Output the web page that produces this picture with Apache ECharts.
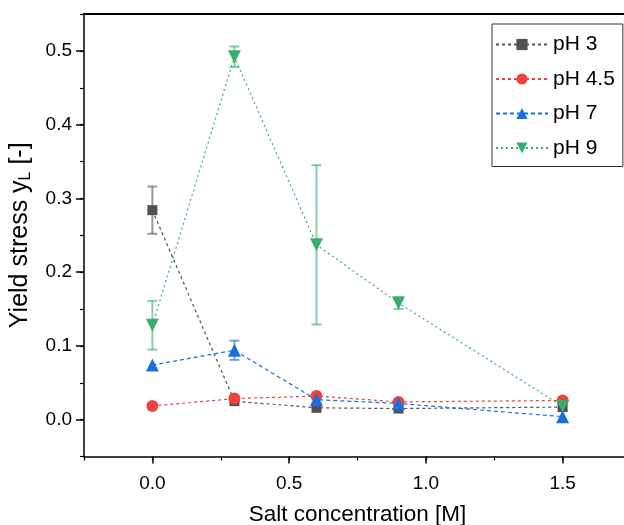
<!DOCTYPE html>
<html>
<head>
<meta charset="utf-8">
<script src="https://cdn.jsdelivr.net/npm/echarts@6/dist/echarts.min.js"></script>
<style>
  html, body { margin: 0; padding: 0; background: #fff; }
  #chart { width: 624px; height: 525px; }
</style>
</head>
<body>
<div id="chart"></div>
<script>
// Salt concentration (M) at which each yield stress was measured
const saltConc = [0, 0.3, 0.6, 0.9, 1.5];

// Yield stress y_L and its standard deviation for each pH
const ph3 = [0.284, 0.025, 0.016, 0.015, 0.017];
const ph3Err = [0.032, 0, 0, 0, 0];
const ph45 = [0.0185, 0.0285, 0.032, 0.024, 0.026];
const ph45Err = [0, 0, 0, 0, 0];
const ph7 = [0.074, 0.094, 0.027, 0.022, 0.004];
const ph7Err = [0, 0.013, 0.004, 0, 0];
const ph9 = [0.128, 0.492, 0.237, 0.158, 0.018];
const ph9Err = [0.033, 0.014, 0.108, 0.008, 0];

const seriesNames = ['pH 3', 'pH 4.5', 'pH 7', 'pH 9'];
const xTickLabels = [0, 0.5, 1.0, 1.5];
const yTickLabels = [0, 0.1, 0.2, 0.3, 0.4, 0.5];

const FONT = 'Liberation Sans';
const colors = ['#515151', '#F14040', '#1A6FDF', '#37AD6B'];
const symbols = ['rect', 'circle', 'triangle', 'triangle'];
const symbolSizes = [10, 12, 13, 13];
const rotations = [0, 0, 0, 180];
const dashes = [[3, 3], [3, 3], [4, 3], [2, 3]];

const values = [ph3, ph45, ph7, ph9];
const errors = [ph3Err, ph45Err, ph7Err, ph9Err];

// minor tick positions every 0.25 M and every 0.05 in stress
const xMinor = [];
for (let i = -1; i <= 7; i++) xMinor.push(+(i * 0.25).toFixed(2));
const yMinor = [];
for (let i = -1; i <= 11; i++) yMinor.push(+(i * 0.05).toFixed(2));

const X_MIN = -0.25, X_MAX = 1.75, Y_MIN = -0.05, Y_MAX = 0.55;

const lineSeries = seriesNames.map((name, k) => ({
  name: name,
  type: 'line',
  xAxisIndex: 0,
  yAxisIndex: 0,
  data: saltConc.map((x, i) => [x, values[k][i]]),
  symbol: symbols[k],
  symbolSize: symbolSizes[k],
  symbolRotate: rotations[k],
  itemStyle: { color: colors[k], opacity: 1 },
  lineStyle: { color: colors[k], width: 1.2, type: dashes[k] },
  z: 3 + k,
  animation: false
}));

// vertical error bars with caps, drawn through the axis scales
const errorSeries = seriesNames.map((name, k) => ({
  name: name + ' error',
  type: 'custom',
  xAxisIndex: 0,
  yAxisIndex: 0,
  data: saltConc
    .map((x, i) => [x, values[k][i] - errors[k][i], values[k][i] + errors[k][i]])
    .filter((d, i) => errors[k][i] > 0),
  renderItem: function (params, api) {
    const x = api.value(0);
    const lo = api.coord([x, api.value(1)]);
    const hi = api.coord([x, api.value(2)]);
    const hw = 5;
    const style = { stroke: colors[k], lineWidth: 2, opacity: 0.6 };
    return {
      type: 'group',
      children: [
        { type: 'line', shape: { x1: lo[0], y1: lo[1], x2: hi[0], y2: hi[1] }, style: style },
        { type: 'line', shape: { x1: lo[0] - hw, y1: lo[1], x2: lo[0] + hw, y2: lo[1] }, style: style },
        { type: 'line', shape: { x1: hi[0] - hw, y1: hi[1], x2: hi[0] + hw, y2: hi[1] }, style: style }
      ]
    };
  },
  z: 2 + k,
  silent: true,
  animation: false
}));

const axisLine = { show: true, onZero: false, lineStyle: { color: '#000', width: 1.5 } };
const hiddenLine = { show: false, onZero: false };

const option = {
  backgroundColor: '#fff',
  animation: false,
  grid: { left: 84, top: 14, width: 547, height: 442.5, containLabel: false, outerBoundsMode: 'none' },
  legend: {
    data: seriesNames,
    orient: 'vertical',
    left: 492,
    top: 24,
    width: 130,
    padding: [10, 8, 8, 3],
    itemGap: 13.5,
    itemWidth: 52,
    itemHeight: 14,
    borderColor: '#333',
    borderWidth: 1,
    backgroundColor: '#fff',
    textStyle: { fontFamily: FONT, fontSize: 21, color: '#000', lineHeight: 14 },
    z: 20
  },
  xAxis: [
    {
      type: 'value',
      min: X_MIN, max: X_MAX,
      position: 'bottom',
      name: 'Salt concentration [M]',
      nameLocation: 'middle',
      nameGap: 47,
      nameTextStyle: { fontFamily: FONT, fontSize: 22.5, color: '#000' },
      axisLine: axisLine,
      axisTick: { show: true, inside: false, length: 7, customValues: xTickLabels, lineStyle: { color: '#000', width: 1.5 } },
      axisLabel: { show: true, customValues: xTickLabels, margin: 18, fontFamily: FONT, fontSize: 19, color: '#000',
        formatter: v => v.toFixed(1) },
      splitLine: { show: false }
    },
    {
      type: 'value',
      min: X_MIN, max: X_MAX,
      position: 'bottom',
      axisLine: hiddenLine,
      axisTick: { show: true, inside: false, length: 4, customValues: xMinor, lineStyle: { color: '#000', width: 1.2 } },
      axisLabel: { show: false },
      splitLine: { show: false }
    },
    {
      type: 'value',
      min: X_MIN, max: X_MAX,
      position: 'top',
      axisLine: { show: true, onZero: false, lineStyle: { color: '#000', width: 2 } },
      axisTick: { show: false },
      axisLabel: { show: false },
      splitLine: { show: false }
    }
  ],
  yAxis: [
    {
      type: 'value',
      min: Y_MIN, max: Y_MAX,
      position: 'left',
      name: '{a|Yield stress y}{s|L}{a| [-]}',
      nameLocation: 'middle',
      nameGap: 50,
      nameRotate: 90,
      nameTextStyle: {
        fontFamily: FONT, color: '#000',
        rich: {
          a: { fontFamily: FONT, fontSize: 25, color: '#000', lineHeight: 28 },
          s: { fontFamily: FONT, fontSize: 16, color: '#000', lineHeight: 16, padding: [15, 0, 0, 0], verticalAlign: 'bottom' }
        }
      },
      axisLine: axisLine,
      axisTick: { show: true, inside: false, length: 8, customValues: yTickLabels, lineStyle: { color: '#000', width: 1.5 } },
      axisLabel: { show: true, customValues: yTickLabels, margin: 12, fontFamily: FONT, fontSize: 19, color: '#000',
        formatter: v => v.toFixed(1) },
      splitLine: { show: false }
    },
    {
      type: 'value',
      min: Y_MIN, max: Y_MAX,
      position: 'left',
      axisLine: hiddenLine,
      axisTick: { show: true, inside: false, length: 4, customValues: yMinor, lineStyle: { color: '#000', width: 1.2 } },
      axisLabel: { show: false },
      splitLine: { show: false }
    }
  ],
  series: lineSeries.concat(errorSeries)
};

const chart = echarts.init(document.getElementById('chart'), null, { renderer: 'canvas' });
chart.setOption(option);
</script>
</body>
</html>
